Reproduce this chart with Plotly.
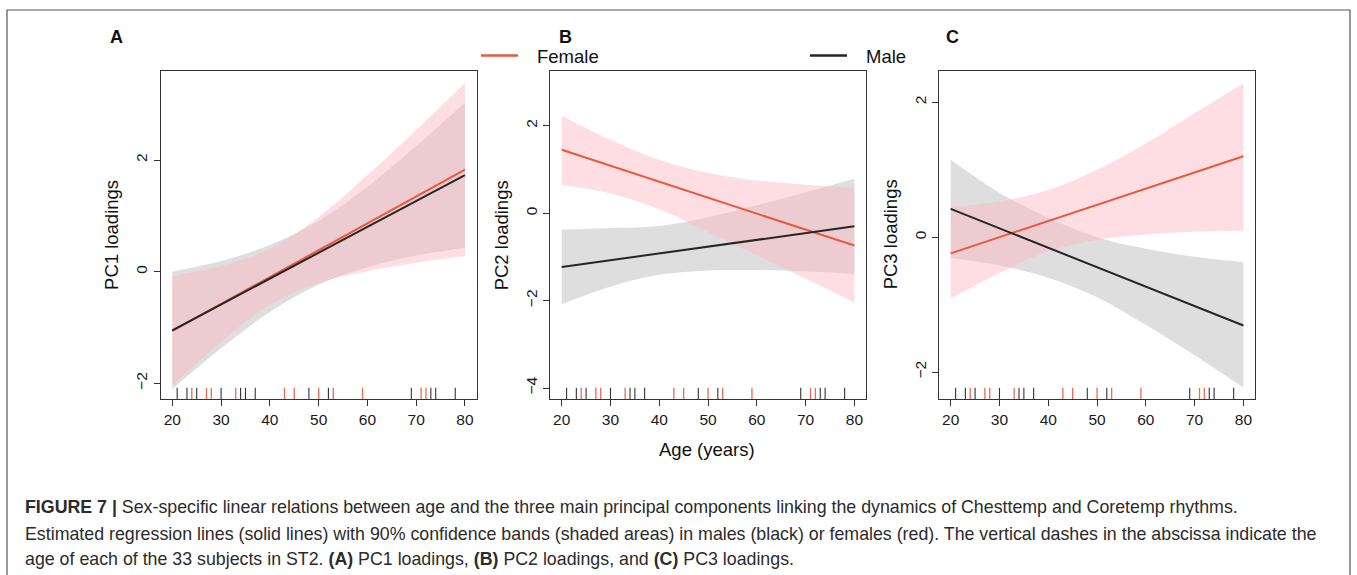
import plotly.graph_objects as go

W, H = 1357, 575

# ---------------- data ----------------
AGES = [20, 30, 40, 50, 60, 70, 80]          # band sample ages
FIT_AGES = [20, 80]                           # regression line end ages
X_TICKS = [20, 30, 40, 50, 60, 70, 80]

MALE_RUG = [21, 23, 25, 30, 34, 35, 37, 48, 52, 69, 73, 74, 78]
FEMALE_RUG = [24, 27, 28, 33, 43, 45, 50, 53, 59, 71, 72]

# Panel A: PC1
A_MALE_FIT = [-1.05, 1.73]
A_FEMALE_FIT = [-1.06, 1.83]
A_MALE_UPPER = [0.00, 0.19, 0.48, 0.91, 1.52, 2.25, 3.03]
A_MALE_LOWER = [-2.10, -1.37, -0.72, -0.23, 0.08, 0.29, 0.43]
A_FEMALE_UPPER = [-0.08, 0.10, 0.41, 0.98, 1.73, 2.54, 3.38]
A_FEMALE_LOWER = [-2.04, -1.26, -0.59, -0.20, 0.01, 0.16, 0.28]
A_YTICKS = [-2, 0, 2]

# Panel B: PC2
B_MALE_FIT = [-1.23, -0.30]
B_FEMALE_FIT = [1.45, -0.74]
B_MALE_UPPER = [-0.38, -0.34, -0.29, -0.09, 0.18, 0.48, 0.79]
B_MALE_LOWER = [-2.08, -1.68, -1.41, -1.31, -1.30, -1.33, -1.39]
B_FEMALE_UPPER = [2.23, 1.68, 1.22, 0.92, 0.75, 0.65, 0.57]
B_FEMALE_LOWER = [0.65, 0.45, 0.09, -0.43, -0.97, -1.50, -2.04]
B_YTICKS = [-4, -2, 0, 2]

# Panel C: PC3
C_MALE_FIT = [0.42, -1.31]
C_FEMALE_FIT = [-0.24, 1.20]
C_MALE_UPPER = [1.15, 0.66, 0.29, 0.00, -0.17, -0.29, -0.37]
C_MALE_LOWER = [-0.31, -0.42, -0.60, -0.89, -1.30, -1.75, -2.23]
C_FEMALE_UPPER = [0.45, 0.53, 0.70, 1.00, 1.39, 1.84, 2.28]
C_FEMALE_LOWER = [-0.91, -0.53, -0.21, -0.04, 0.04, 0.08, 0.10]
C_YTICKS = [-2, 0, 2]

PANEL_LABELS = ["A", "B", "C"]
Y_TITLES = ["PC1 loadings", "PC2 loadings", "PC3 loadings"]
SEX_NAMES = ["Female", "Male"]
X_TITLE = "Age (years)"
CAPTION_LINES = [
    "<b>FIGURE 7 |</b> Sex-specific linear relations between age and the three main principal components linking the dynamics of Chesttemp and Coretemp rhythms.",
    "Estimated regression lines (solid lines) with 90% confidence bands (shaded areas) in males (black) or females (red). The vertical dashes in the abscissa indicate the",
    "age of each of the 33 subjects in ST2. <b>(A)</b> PC1 loadings, <b>(B)</b> PC2 loadings, and <b>(C)</b> PC3 loadings.",
]

# ---------------- styles ----------------
RED = "#E9583D"
BLACK = "#262626"
PINK_FILL = "rgba(255,182,193,0.45)"
GRAY_FILL = "rgba(190,190,190,0.5)"
RUG_RED = "#EE6B55"
RUG_BLACK = "#333333"
AXIS_COL = "#333333"
FONT = "Liberation Sans, Arial, Helvetica, sans-serif"
CAP_FONT = "Liberation Sans Narrow, Arial Narrow, Liberation Sans, Arial, sans-serif"

X_RANGE = [17.6, 82.4]
Y_RANGES = [[-2.28, 3.60], [-4.25, 3.26], [-2.40, 2.47]]
BOX_LEFT = [160.6, 550.0, 939.0]
BOX_W = 316.1
BOX_TOP, BOX_BOT = 70.7, 399.0


def fx(px):
    return px / W


def fy(py):
    return 1 - py / H


panels = [
    dict(mfit=A_MALE_FIT, ffit=A_FEMALE_FIT, mu=A_MALE_UPPER, ml=A_MALE_LOWER,
         fu=A_FEMALE_UPPER, fl=A_FEMALE_LOWER, yt=A_YTICKS),
    dict(mfit=B_MALE_FIT, ffit=B_FEMALE_FIT, mu=B_MALE_UPPER, ml=B_MALE_LOWER,
         fu=B_FEMALE_UPPER, fl=B_FEMALE_LOWER, yt=B_YTICKS),
    dict(mfit=C_MALE_FIT, ffit=C_FEMALE_FIT, mu=C_MALE_UPPER, ml=C_MALE_LOWER,
         fu=C_FEMALE_UPPER, fl=C_FEMALE_LOWER, yt=C_YTICKS),
]

fig = go.Figure()
shapes = []
annotations = []

for i, p in enumerate(panels):
    sfx = "" if i == 0 else str(i + 1)
    xa, ya = "x" + sfx, "y" + sfx
    common = dict(xaxis=xa, yaxis=ya, showlegend=False, hoverinfo="skip")
    band_line = dict(width=0, shape="spline", smoothing=1.0)
    # male band
    fig.add_trace(go.Scatter(x=AGES, y=p["ml"], mode="lines", line=band_line, **common))
    fig.add_trace(go.Scatter(x=AGES, y=p["mu"], mode="lines", line=band_line,
                             fill="tonexty", fillcolor=GRAY_FILL, **common))
    # female band
    fig.add_trace(go.Scatter(x=AGES, y=p["fl"], mode="lines", line=band_line, **common))
    fig.add_trace(go.Scatter(x=AGES, y=p["fu"], mode="lines", line=band_line,
                             fill="tonexty", fillcolor=PINK_FILL, **common))
    # regression lines
    fig.add_trace(go.Scatter(x=FIT_AGES, y=p["ffit"], mode="lines",
                             line=dict(color=RED, width=2), **common))
    fig.add_trace(go.Scatter(x=FIT_AGES, y=p["mfit"], mode="lines",
                             line=dict(color=BLACK, width=2), **common))

    # rug
    for a in MALE_RUG:
        shapes.append(dict(type="line", xref=xa, yref=ya + " domain", x0=a, x1=a,
                           y0=0, y1=0.034, line=dict(color=RUG_BLACK, width=1.1)))
    for a in FEMALE_RUG:
        shapes.append(dict(type="line", xref=xa, yref=ya + " domain", x0=a, x1=a,
                           y0=0, y1=0.034, line=dict(color=RUG_RED, width=1.3)))

    left = BOX_LEFT[i]
    axis_common = dict(showline=True, linecolor=AXIS_COL, linewidth=1, mirror=True,
                       ticks="outside", ticklen=6, tickwidth=1, tickcolor=AXIS_COL,
                       showgrid=False, zeroline=False,
                       tickfont=dict(family=FONT, size=15.5, color="#1a1a1a"))
    fig.update_layout(**{
        ("xaxis" + sfx): dict(domain=[fx(left), fx(left + BOX_W)], range=X_RANGE,
                             anchor=ya, tickvals=X_TICKS, ticklabelstandoff=0,
                             **axis_common),
        ("yaxis" + sfx): dict(domain=[fy(BOX_BOT), fy(BOX_TOP)], range=Y_RANGES[i],
                             anchor=xa, tickvals=p["yt"], tickangle=-90,
                             **axis_common),
    })

    annotations.append(dict(text=Y_TITLES[i], xref="paper", yref="paper",
                            x=fx(left - 48.5), y=fy((BOX_TOP + BOX_BOT) / 2),
                            textangle=-90, showarrow=False, xanchor="center",
                            yanchor="middle",
                            font=dict(family=FONT, size=18.5, color="#111")))

# panel letters
for lab, px in zip(PANEL_LABELS, [116, 565, 952]):
    annotations.append(dict(text="<b>" + lab + "</b>", xref="paper", yref="paper",
                            x=fx(px), y=fy(37), showarrow=False, xanchor="center",
                            yanchor="middle",
                            font=dict(family=FONT, size=18, color="#111")))

# x title
annotations.append(dict(text=X_TITLE, xref="paper", yref="paper", x=fx(707), y=fy(449),
                        showarrow=False, xanchor="center", yanchor="middle",
                        font=dict(family=FONT, size=18.5, color="#111")))

# legend (manual, as in the figure)
for name, col, lx0, tx in zip(SEX_NAMES, [RED, BLACK], [481, 810], [535, 864]):
    shapes.append(dict(type="line", xref="paper", yref="paper", x0=fx(lx0), x1=fx(lx0 + 37),
                       y0=fy(55.5), y1=fy(55.5), line=dict(color=col, width=2.4)))
    annotations.append(dict(text=name, xref="paper", yref="paper", x=fx(tx), y=fy(56.5),
                            showarrow=False, xanchor="left", yanchor="middle",
                            font=dict(family=FONT, size=18.5, color="#111")))

# caption
for txt, py in zip(CAPTION_LINES, [507, 533.5, 558.5]):
    annotations.append(dict(text=txt, xref="paper", yref="paper", x=fx(23), y=fy(py),
                            showarrow=False, xanchor="left", yanchor="middle",
                            font=dict(family=CAP_FONT, size=17.8, color="#2b2b2b")))

# outer frame (its bottom edge lies below the visible page, as in the figure)
shapes.append(dict(type="rect", xref="paper", yref="paper", x0=fx(7), x1=fx(1350),
                   y0=fy(590), y1=fy(10), line=dict(color="#555555", width=1.2),
                   fillcolor="rgba(0,0,0,0)", layer="below"))

fig.update_layout(width=W, height=H, margin=dict(l=0, r=0, t=0, b=0),
                  paper_bgcolor="white", plot_bgcolor="white",
                  shapes=shapes, annotations=annotations, showlegend=False)

fig.write_html("out.html", config={"displayModeBar": False},
               post_script="document.body.style.margin='0';document.body.style.overflow='hidden';")
